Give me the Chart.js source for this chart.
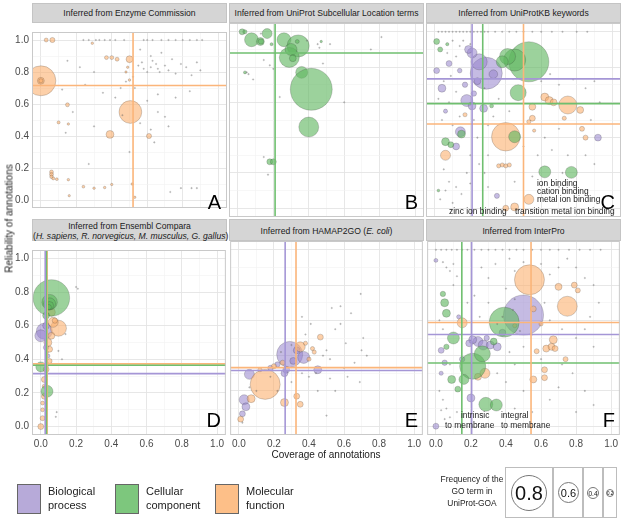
<!DOCTYPE html>
<html>
<head>
<meta charset="utf-8">
<script src="https://cdn.jsdelivr.net/npm/chart.js@4"></script>
<style>
  body { margin:0; width:631px; height:522px; background:#fff; position:relative; overflow:hidden;
         font-family:"Liberation Sans", Arial, sans-serif; color:#1a1a1a; }
  canvas { position:absolute; }
  .strip { position:absolute; background:#d5d5d5; border:1px solid #c4c4c4; box-sizing:border-box;
           text-align:center; font-size:8.6px; color:#1a1a1a; line-height:10px; white-space:nowrap; }
  .abs { position:absolute; white-space:nowrap; }
  .letter { position:absolute; font-size:20px; line-height:20px; color:#000; }
  .note { position:absolute; font-size:8.4px; line-height:9px; color:#1a1a1a; white-space:nowrap; }
  .key { position:absolute; width:22px; height:28px; border:1px solid #666; }
  .keytxt { position:absolute; font-size:11px; line-height:14px; color:#222; }
  .sbox { position:absolute; border:1px solid #bdbdbd; box-sizing:border-box; top:467px; height:51px; }
  .circ { position:absolute; border:1px solid #777; border-radius:50%; box-sizing:border-box;
          display:flex; align-items:center; justify-content:center; color:#111; }
</style>
</head>
<body>
<script>
// ---------- data (x = coverage, y = reliability, f = frequency of the GO term) ----------
// A: Enzyme Commission (molecular function only)
const ecMF = [
  [0.0,0.745,0.72],[0.0,0.745,0.30],[0.0,0.745,0.2],[0.03,1.0,0.19],[0.065,1.0,0.24],
  [0.29,0.98,0.1],[0.37,0.89,0.19],[0.40,0.89,0.19],[0.43,0.88,0.19],[0.50,0.88,0.3],
  [0.49,0.83,0.09],[0.15,0.595,0.19],[0.505,0.55,0.62],[0.39,0.41,0.33],[0.61,0.40,0.24],
  [0.10,0.485,0.14],[0.155,0.475,0.09],[0.06,0.175,0.19],[0.06,0.16,0.19],[0.06,0.145,0.17],
  [0.07,0.135,0.14],[0.09,0.13,0.12],[0.155,0.127,0.1],[0.24,0.083,0.12],[0.30,0.074,0.1],
  [0.36,0.078,0.1],[0.40,0.097,0.09],[0.515,0.10,0.09],[0.53,0.017,0.08],[0.16,0.027,0.08],
  [0.5,0.75,0.1],[0.48,0.80,0.08]
];
const ecTiny = [
  [0.24,1],[0.27,1],[0.31,1],[0.33,1],[0.36,1],[0.39,1],[0.42,1],[0.47,1],[0.58,1],[0.6,1],[0.63,1],
  [0.68,1],[0.72,1],[0.76,1],[0.8,1],[0.84,1],[0.88,1],[0.91,1],[0.55,0.84],[0.57,0.86],[0.58,0.82],
  [0.6,0.8],[0.62,0.83],[0.63,0.87],[0.65,0.85],[0.66,0.82],[0.67,0.8],[0.7,0.84],[0.72,0.81],
  [0.74,0.88],[0.76,0.79],[0.79,0.85],[0.82,0.83],[0.85,0.78],[0.88,0.86],[0.9,0.81],[0.52,0.77],
  [0.48,0.74],[0.45,0.7],[0.62,0.9],[0.68,0.92],[0.56,0.94],[0.3,0.8],[0.22,0.83],[0.15,0.87],
  [0.12,0.69],[0.25,0.72],[0.35,0.67],[0.42,0.64],[0.6,0.62],[0.66,0.66],[0.76,0.64],[0.84,0.68],
  [0.66,0.55],[0.7,0.52],[0.56,0.48],[0.62,0.44],[0.72,0.46],[0.64,0.36],[0.5,0.3],[0.3,0.46],
  [0.18,0.55],[0.14,0.42],[0.73,0.05],[0.79,0.074],[0.85,0.074],[0.88,0.074],[0.27,0.225],
  [0.46,0.53],[0.53,0.7]
];
// B: UniProt Subcellular Location (cellular component only)
const ucCC = [
  [0.024,1.0,0.27],[0.04,1.0,0.2],[0.077,0.955,0.47],[0.127,0.945,0.33],[0.165,0.99,0.385],
  [0.26,0.955,0.47],[0.34,0.92,0.61],[0.29,0.855,0.577],[0.30,0.90,0.43],[0.36,0.77,0.43],
  [0.414,0.674,0.86],[0.40,0.46,0.577],[0.18,0.263,0.27],[0.20,0.263,0.27],[0.19,0.93,0.136],
  [0.04,0.77,0.136],[0.335,0.945,0.19],[0.47,0.945,0.09],[0.31,0.85,0.3],[0.13,0.945,0.25]
];
const ucTiny = [
  [0.81,0.97],[0.75,0.9],[0.48,0.82],[0.146,0.84],[0.18,0.81],[0.086,0.73],[0.236,0.63],[0.17,0.19],
  [0.146,0.29],[0.6,0.6],[0.05,0.77],[0.06,0.76],[0.45,0.93],[0.46,0.91],[0.52,0.93],[0.39,0.95],
  [0.13,0.99],[0.2,0.79]
];
// C: UniProtKB keywords
const kwBP = [
  [0.29,0.765,0.745],[0.25,0.83,0.51],[0.21,0.88,0.385],[0.18,0.61,0.43],[0.21,0.58,0.33],
  [0.275,0.566,0.33],[0.01,0.78,0.27],[0.04,0.68,0.33],[0.08,0.82,0.27],[0.19,0.90,0.33],
  [0.144,0.433,0.385],[0.92,0.40,0.3],[0.35,0.07,0.24],[0.24,0.72,0.3],[0.17,0.70,0.25],
  [0.14,0.78,0.22],[0.12,0.35,0.3],[0.33,0.76,0.35],[0.06,0.55,0.2],[0.22,0.65,0.25]
];
const kwCC = [
  [0.53,0.83,0.84],[0.45,0.84,0.61],[0.41,0.86,0.51],[0.38,0.83,0.43],[0.47,0.655,0.51],
  [0.01,0.945,0.27],[0.03,0.90,0.236],[0.15,0.42,0.33],[0.06,0.377,0.33],[0.09,0.36,0.27],
  [0.45,0.405,0.43],[0.62,0.206,0.43],[0.77,0.203,0.43],[0.32,0.58,0.19],[0.07,0.93,0.15],
  [0.02,0.1,0.12]
];
const kwMF = [
  [0.40,0.405,0.70],[0.75,0.585,0.544],[0.62,0.63,0.333],[0.645,0.61,0.333],[0.67,0.60,0.3],
  [0.55,0.575,0.3],[0.82,0.557,0.3],[0.55,0.51,0.27],[0.06,0.30,0.385],[0.36,0.24,0.2],
  [0.38,0.245,0.2],[0.40,0.24,0.2],[0.42,0.245,0.2],[0.53,0.05,0.385],[0.45,0.007,0.333],
  [0.40,0.0,0.27],[0.83,0.45,0.236],[0.85,0.40,0.236],[0.17,0.53,0.2],[0.53,0.49,0.2],
  [0.56,0.44,0.15],[0.73,0.51,0.2]
];
const kwTiny = [
  [0.02,1],[0.04,1],[0.06,1],[0.08,1],[0.1,1],[0.12,1],[0.14,1],[0.16,1],[0.18,1],[0.2,1],[0.22,1],
  [0.24,1],[0.26,1],[0.28,1],[0.3,1],[0.34,1],[0.38,1],[0.42,1],[0.46,1],[0.5,1],[0.55,1],[0.6,1],
  [0.66,1],[0.72,1],[0.8,1],[0.86,1],[0.1,0.95],[0.14,0.92],[0.16,0.95],[0.2,0.93],[0.12,0.86],
  [0.07,0.88],[0.09,0.75],[0.05,0.72],[0.12,0.66],[0.08,0.6],[0.04,0.5],[0.1,0.47],[0.14,0.52],
  [0.02,0.62],[0.22,0.5],[0.3,0.47],[0.33,0.52],[0.28,0.68],[0.36,0.62],[0.42,0.55],[0.6,0.72],
  [0.65,0.76],[0.7,0.7],[0.78,0.73],[0.85,0.68],[0.9,0.72],[0.93,0.6],[0.88,0.5],[0.7,0.45],
  [0.62,0.4],[0.66,0.33],[0.75,0.3],[0.85,0.3],[0.9,0.25],[0.58,0.3],[0.5,0.35],[0.3,0.3],
  [0.25,0.25],[0.2,0.3],[0.05,0.22],[0.08,0.15],[0.12,0.12],[0.06,0.1],[0.15,0.08],[0.2,0.14],
  [0.28,0.2],[0.3,0.12],[0.45,0.15],[0.55,0.18],[0.7,0.12],[0.72,0.2],[0.03,0.05],[0.1,0.03],
  [0.18,0.2],[0.24,0.4]
];
// D: Ensembl Compara
const ensBP = [[0.02,0.567,0.51],[0.0,0.54,0.43],[0.03,0.6,0.3],[0.04,0.42,0.2],[0.03,0.47,0.25]];
const ensCC = [
  [0.06,0.765,0.80],[0.05,0.74,0.5],[0.05,0.73,0.43],[0.05,0.72,0.33],[0.045,0.71,0.25],
  [0.035,0.21,0.43],[0.0,0.355,0.385],[0.03,0.66,0.3]
];
const ensMF = [
  [0.10,0.585,0.51],[0.07,0.62,0.385],[0.06,0.68,0.333],[0.0,0.0,0.27],[0.01,0.05,0.236],
  [0.01,0.10,0.19],[0.01,0.14,0.19],[0.02,0.18,0.27],[0.02,0.28,0.27],[0.03,0.34,0.27],
  [0.05,0.39,0.236],[0.05,0.46,0.27],[0.04,0.5,0.333],[0.06,0.54,0.3],[0.08,0.63,0.25],
  [0.02,0.24,0.2]
];
const ensTiny = [
  [0.2,0.83],[0.21,0.82],[0.09,0.086],[0.085,0.058],[0.12,0.4],[0.1,0.45],[0.14,0.55],[0.03,0.3],
  [0.03,0.26],[0.03,0.12],[0.03,0.08],[0.04,0.36],[0.04,0.44],[0.03,0.02]
];
// E: HAMAP2GO (E. coli)
const hamBP = [
  [0.29,0.407,0.667],[0.37,0.39,0.43],[0.06,0.294,0.385],[0.45,0.32,0.333],[0.03,0.15,0.385],
  [0.04,0.11,0.333],[0.02,0.07,0.27],[0.18,0.33,0.25],[0.22,0.35,0.25],[0.27,0.32,0.3],
  [0.31,0.37,0.3],[0.26,0.3,0.3],[0.33,0.43,0.3]
];
const hamMF = [
  [0.15,0.237,0.72],[0.35,0.45,0.385],[0.465,0.505,0.27],[0.33,0.17,0.27],[0.35,0.124,0.27],
  [0.26,0.134,0.333],[0.01,0.04,0.27],[0.07,0.156,0.333],[0.2,0.34,0.24],[0.25,0.36,0.24],
  [0.4,0.38,0.2],[0.42,0.44,0.2],[0.43,0.42,0.2],[0.38,0.47,0.2],[0.12,0.32,0.2]
];
const hamTiny = [
  [0.695,0.75],[0.58,0.68],[0.64,0.64],[0.53,0.67],[0.36,0.62],[0.41,0.58],[0.58,0.58],[0.71,0.5],
  [0.55,0.55],[0.61,0.47],[0.7,0.43],[0.73,0.4],[0.66,0.36],[0.62,0.28],[0.69,0.25],[0.55,0.2],
  [0.6,0.33],[0.52,0.27],[0.45,0.2],[0.5,0.06],[0.48,0.4],[0.5,0.43],[0.52,0.38],[0.44,0.3],
  [0.4,0.28],[0.36,0.3],[0.3,0.25],[0.22,0.2],[0.18,0.28],[0.24,0.42],[0.3,0.46],[0.38,0.52],
  [0.1,0.2],[0.06,0.22],[0.02,0.02]
];
// F: InterPro
const ipBP = [
  [0.50,0.63,0.84],[0.24,0.48,0.385],[0.27,0.46,0.385],[0.31,0.46,0.333],[0.35,0.45,0.333],
  [0.21,0.49,0.333],[0.19,0.47,0.3],[0.0,0.0,0.27],[0.2,0.16,0.333],[0.03,0.43,0.27],
  [0.0,0.94,0.19],[0.38,0.53,0.3],[0.29,0.5,0.25],[0.15,0.38,0.25],[0.05,0.36,0.25],
  [0.03,0.3,0.2],[0.13,0.62,0.2]
];
const ipCC = [
  [0.39,0.59,0.72],[0.10,0.50,0.43],[0.21,0.34,0.667],[0.265,0.41,0.51],[0.285,0.124,0.47],
  [0.345,0.12,0.43],[0.09,0.265,0.333],[0.125,0.21,0.27],[0.16,0.265,0.385],[0.05,0.70,0.333],
  [0.06,0.64,0.333],[0.04,0.75,0.25],[0.06,0.45,0.25],[0.33,0.48,0.3]
];
const ipMF = [
  [0.534,0.83,0.72],[0.75,0.68,0.577],[0.70,0.79,0.304],[0.79,0.80,0.27],[0.81,0.77,0.236],
  [0.15,0.586,0.385],[0.67,0.49,0.333],[0.63,0.44,0.304],[0.66,0.45,0.304],[0.68,0.44,0.27],
  [0.28,0.30,0.385],[0.24,0.28,0.304],[0.556,0.265,0.304],[0.62,0.275,0.27],[0.62,0.32,0.27],
  [0.74,0.38,0.236],[0.556,0.665,0.27],[0.575,0.425,0.236],[0.45,0.57,0.2],[0.6,0.58,0.2]
];
const ipTiny = [
  [0.0,1],[0.03,1],[0.06,1],[0.09,1],[0.12,1],[0.15,1],[0.18,1],[0.22,1],[0.26,1],[0.3,1],[0.34,1],
  [0.38,1],[0.42,1],[0.46,1],[0.5,1],[0.55,1],[0.6,1],[0.65,1],[0.7,1],[0.76,1],[0.82,1],[0.88,1],
  [0.94,1],[0.04,0.93],[0.06,0.9],[0.08,0.88],[0.1,0.92],[0.12,0.85],[0.2,0.8],[0.22,0.74],
  [0.26,0.9],[0.3,0.84],[0.34,0.92],[0.42,0.95],[0.45,0.88],[0.5,0.93],[0.6,0.92],[0.65,0.86],
  [0.7,0.9],[0.75,0.95],[0.8,0.9],[0.85,0.84],[0.9,0.8],[0.93,0.7],[0.88,0.62],[0.85,0.55],
  [0.9,0.45],[0.8,0.5],[0.72,0.55],[0.65,0.6],[0.62,0.7],[0.45,0.72],[0.4,0.78],[0.3,0.7],
  [0.25,0.62],[0.18,0.7],[0.1,0.8],[0.02,0.6],[0.04,0.55],[0.08,0.35],[0.02,0.2],[0.04,0.15],
  [0.06,0.1],[0.08,0.05],[0.12,0.08],[0.03,0.09],[0.05,0.04],[0.35,0.3],[0.4,0.25],[0.45,0.35],
  [0.5,0.2],[0.45,0.1],[0.55,0.08],[0.65,0.15],[0.7,0.22],[0.78,0.3],[0.85,0.2],[0.9,0.12],
  [0.8,0.08],[0.72,0.35],[0.6,0.38],[0.5,0.45],[0.42,0.42],[0.38,0.62],[0.55,0.52],[0.48,0.54],
  [0.35,0.58],[0.44,0.66]
];

// median cut-offs per panel, order: [biological process, cellular component, molecular function]
const ecCov  = [null, null, 0.52],     ecRel  = [null, null, 0.716];
const ucCov  = [null, 0.21, null],     ucRel  = [null, 0.88, null];
const kwCov  = [0.21, 0.27, 0.50],     kwRel  = [0.733, 0.593, 0.477];
const ensCov = [0.025, 0.032, 0.036],  ensRel = [0.315, 0.365, 0.373];
const hamCov = [0.264, null, 0.326],   hamRel = [0.316, null, 0.332];
const ipCov  = [0.204, 0.148, 0.543],  ipRel  = [0.52, 0.358, 0.588];

// grid positions (0.1 apart) and the labels shown on every second one
const gridValues = [0, 0.1, 0.2, 0.3, 0.4, 0.5, 0.6, 0.7, 0.8, 0.9, 1.0];
const tickLabels = ["0.0","0.2","0.4","0.6","0.8","1.0"];

// ---------- styling ----------
const FILL   = ["rgba(150,132,204,0.55)", "rgba(96,182,96,0.62)", "rgba(252,176,112,0.6)"];
const LINE   = ["#a596d6", "#6fbf6f", "#fbb57a"];
const EDGE   = "rgba(50,50,50,0.35)";
const radius = f => 1 + 27 * f * f;

const COL_LEFT = [32, 229, 426], PANEL_W = 195;
const ROW_TOP  = [23, 241],      PANEL_H = 194;
const STRIP_TOP = [3, 219];
const Y_AXIS_W = 32, X_AXIS_H = 18;

Chart.defaults.font.family = "'Liberation Sans', Arial, sans-serif";
Chart.defaults.animation = false;

const borderPlugin = {
  id: "panelBorder",
  afterDraw(chart) {
    const a = chart.chartArea, c = chart.ctx;
    c.save();
    c.strokeStyle = "#c9c9c9";
    c.lineWidth = 1;
    c.strokeRect(a.left + 0.5, a.top + 0.5, a.width - 1, a.height - 1);
    c.restore();
  }
};

function bubbleSet(arr, k) {
  return {
    type: "bubble",
    data: arr.map(p => ({ x: p[0], y: p[1], r: radius(p[2]) })),
    backgroundColor: FILL[k], borderColor: EDGE, borderWidth: 0.6,
    order: [5, 3, 4][k], clip: 0
  };
}
function tinySet(arr) {
  return {
    type: "bubble",
    data: arr.map(p => ({ x: p[0], y: p[1], r: 0.8 })),
    backgroundColor: "rgba(110,110,110,0.45)", borderColor: "rgba(70,70,70,0.4)", borderWidth: 0.3,
    order: 1, clip: 0
  };
}
function cutLines(cov, rel) {
  const out = [];
  cov.forEach((v, k) => { if (v !== null) out.push({ type: "line", data: [{x: v, y: -0.05}, {x: v, y: 1.05}],
    borderColor: LINE[k], borderWidth: 1.6, pointRadius: 0, order: 0, clip: 0 }); });
  rel.forEach((v, k) => { if (v !== null) out.push({ type: "line", data: [{x: -0.05, y: v}, {x: 1.05, y: v}],
    borderColor: LINE[k], borderWidth: 1.6, pointRadius: 0, order: 0, clip: 0 }); });
  return out;
}

const isMajor = v => Math.round(v * 10) % 2 === 0;

function axis(show, isX) {
  return {
    type: "linear", min: -0.05, max: 1.05, bounds: "data",
    afterBuildTicks: s => { s.ticks = gridValues.map(v => ({ value: v })); },
    ticks: {
      display: show, autoSkip: false, maxRotation: 0,
      color: "#4a4a4a", font: { size: 10 }, padding: 3,
      callback: v => isMajor(v) ? tickLabels[Math.round(v * 5)] : ""
    },
    grid: {
      drawTicks: false,
      color: c => (c.tick && isMajor(c.tick.value)) ? "#e4e4e4" : "#f2f2f2",
      lineWidth: c => (c.tick && isMajor(c.tick.value)) ? 0.9 : 0.6
    },
    border: { display: false },
    afterFit: s => { if (isX) s.height = show ? X_AXIS_H : 0; else s.width = show ? Y_AXIS_W : 0; }
  };
}

function makePanel(col, row, stripHtml, datasets) {
  const isLeft = col === 0, isBottom = row === 1;
  const left = COL_LEFT[col] - (isLeft ? Y_AXIS_W : 0);
  const cv = document.createElement("canvas");
  cv.width = PANEL_W + (isLeft ? Y_AXIS_W : 0);
  cv.height = PANEL_H + (isBottom ? X_AXIS_H : 0);
  cv.style.left = left + "px";
  cv.style.top = ROW_TOP[row] + "px";
  document.body.appendChild(cv);

  const strip = document.createElement("div");
  strip.className = "strip";
  strip.style.left = COL_LEFT[col] + "px";
  strip.style.width = PANEL_W + "px";
  strip.style.top = STRIP_TOP[row] + "px";
  strip.style.height = (ROW_TOP[row] - STRIP_TOP[row]) + "px";
  strip.innerHTML = stripHtml;
  document.body.appendChild(strip);

  new Chart(cv, {
    type: "bubble",
    data: { datasets },
    options: {
      responsive: false,
      layout: { padding: 0, autoPadding: false },
      plugins: { legend: { display: false }, tooltip: { enabled: false } },
      scales: { x: axis(isBottom, true), y: axis(isLeft, false) }
    },
    plugins: [borderPlugin]
  });
}

const oneLine = t => '<div style="padding-top:4px">' + t + '</div>';

makePanel(0, 0, oneLine("Inferred from Enzyme Commission"),
  [...cutLines(ecCov, ecRel), tinySet(ecTiny), bubbleSet(ecMF, 2)]);
makePanel(1, 0, oneLine("Inferred from UniProt Subcellular Location terms"),
  [...cutLines(ucCov, ucRel), tinySet(ucTiny), bubbleSet(ucCC, 1)]);
makePanel(2, 0, oneLine("Inferred from UniProtKB keywords"),
  [...cutLines(kwCov, kwRel), tinySet(kwTiny), bubbleSet(kwBP, 0), bubbleSet(kwCC, 1), bubbleSet(kwMF, 2)]);
makePanel(0, 1, '<div style="padding-top:1px">Inferred from Ensembl Compara<br>(<i>H. sapiens, R. norvegicus, M. musculus, G. gallus</i>)</div>',
  [...cutLines(ensCov, ensRel), tinySet(ensTiny), bubbleSet(ensBP, 0), bubbleSet(ensCC, 1), bubbleSet(ensMF, 2)]);
makePanel(1, 1, '<div style="padding-top:6px">Inferred from HAMAP2GO (<i>E. coli</i>)</div>',
  [...cutLines(hamCov, hamRel), tinySet(hamTiny), bubbleSet(hamBP, 0), bubbleSet(hamMF, 2)]);
makePanel(2, 1, '<div style="padding-top:6px">Inferred from InterPro</div>',
  [...cutLines(ipCov, ipRel), tinySet(ipTiny), bubbleSet(ipBP, 0), bubbleSet(ipCC, 1), bubbleSet(ipMF, 2)]);

// panel letters
["A","B","C","D","E","F"].forEach((L, i) => {
  const col = i % 3, row = Math.floor(i / 3);
  const d = document.createElement("div");
  d.className = "letter";
  d.textContent = L;
  d.style.right = (631 - (COL_LEFT[col] + PANEL_W) + 6) + "px";
  d.style.top = (ROW_TOP[row] + PANEL_H - 25) + "px";
  document.body.appendChild(d);
});
</script>

<!-- annotations -->
<div class="note" style="left:537px;top:179px">ion binding</div>
<div class="note" style="left:537px;top:187px">cation binding</div>
<div class="note" style="left:537px;top:195px">metal ion binding</div>
<div class="note" style="left:449px;top:207px">zinc ion binding</div>
<div class="note" style="left:515px;top:207px">transition metal ion binding</div>
<div class="note" style="left:461px;top:411px">intrinsic</div>
<div class="note" style="left:445px;top:421px">to membrane</div>
<div class="note" style="left:501px;top:411px">integral</div>
<div class="note" style="left:501px;top:421px">to membrane</div>

<!-- axis titles -->
<div class="abs" style="left:0;width:652px;text-align:center;top:449px;font-size:10px;color:#1a1a1a">Coverage of annotations</div>
<div class="abs" style="left:-66px;top:213px;width:150px;text-align:center;font-size:10px;transform:rotate(-90deg);color:#1a1a1a">Reliability of annotations</div>

<!-- colour legend -->
<div class="key" style="left:17px;top:484px;background:#b7aad9"></div>
<div class="keytxt" style="left:48px;top:484px">Biological<br>process</div>
<div class="key" style="left:115px;top:484px;background:#7dc77d"></div>
<div class="keytxt" style="left:146px;top:484px">Cellular<br>component</div>
<div class="key" style="left:215px;top:484px;background:#fdbf88"></div>
<div class="keytxt" style="left:246px;top:484px">Molecular<br>function</div>

<!-- size legend -->
<div class="abs" style="left:432px;top:473px;width:80px;text-align:center;font-size:8.4px;line-height:12px;color:#222">Frequency of the<br>GO term in<br>UniProt-GOA</div>
<div class="sbox" style="left:505px;width:48px"><div class="circ" style="left:5px;top:7px;width:36px;height:36px;font-size:20px">0.8</div></div>
<div class="sbox" style="left:553px;width:30px"><div class="circ" style="left:4px;top:14px;width:21px;height:21px;font-size:11px">0.6</div></div>
<div class="sbox" style="left:583px;width:20px"><div class="circ" style="left:3px;top:19px;width:12px;height:12px;font-size:6.5px">0.4</div></div>
<div class="sbox" style="left:603px;width:14px"><div class="circ" style="left:2px;top:21px;width:8px;height:8px;font-size:4.5px">0.2</div></div>
</body>
</html>
